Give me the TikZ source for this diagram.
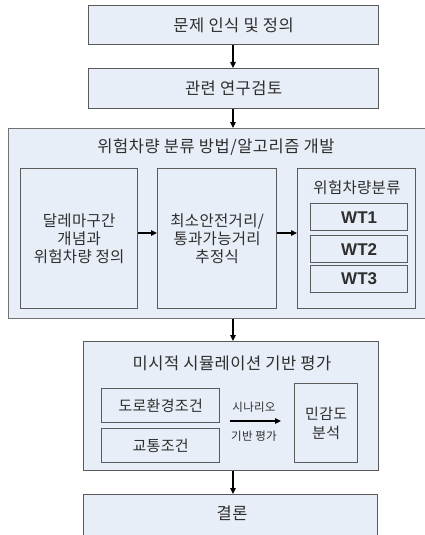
\documentclass[tikz,border=0pt]{standalone}
\usepackage{fontspec}
\usetikzlibrary{arrows.meta}
\newfontfamily\kr[LetterSpace=3]{Noto Sans CJK KR}
\newfontfamily\krs[LetterSpace=2]{Noto Sans CJK KR}
\newfontfamily\wtfont{Liberation Sans}
\definecolor{boxfill}{HTML}{E8EEF7}
\definecolor{boxline}{HTML}{5A5A5A}
\definecolor{txt}{HTML}{2E2E2E}
\begin{document}
\begin{tikzpicture}[x=1pt,y=-1pt,
  box/.style={draw=boxline, line width=1.3pt, fill=boxfill, anchor=north west, inner sep=0pt,
    text=txt, align=center, font=\krs\fontsize{15.5}{18}\selectfont},
  wt/.style={box, font=\wtfont\bfseries\fontsize{17}{18}\selectfont},
  lbl/.style={text=txt, inner sep=0pt, font=\krs\fontsize{15.5}{18}\selectfont},
  ttl/.style={text=txt, inner sep=0pt, font=\kr\fontsize{16.5}{18}\selectfont},
  arr/.style={-{Triangle[length=6pt,width=5.5pt]}, line width=1.1pt, black}]
\useasboundingbox (0,0) rectangle (425,535);
\fill[white] (0,0) rectangle (425,535);
\begin{scope}
\clip (0,0) rectangle (425,535);
% top boxes
\node[box, minimum width=290pt, minimum height=39pt, font=\kr\fontsize{16.5}{18}\selectfont] (b1) at (88,5) {문제 인식 및 정의};
\node[box, minimum width=290pt, minimum height=40pt, font=\kr\fontsize{16.5}{18}\selectfont] (b2) at (88,68) {관련 연구검토};
% big box
\node[box, draw=boxline!85, minimum width=425pt, minimum height=190pt] (b3) at (8,128) {};
\node[ttl] (t3) at (216,147) {위험차량 분류 방법/알고리즘 개발};
\node[box, minimum width=117pt, minimum height=140pt] (l1) at (20,168) {달레마구간\\개념과\\위험차량 정의};
\node[box, minimum width=119pt, minimum height=140pt] (l2) at (157,168) {최소안전거리/\\통과가능거리\\추정식};
\node[box, minimum width=118pt, minimum height=140pt] (l3) at (297,168) {};
\node[lbl] (t4) at (357,188) {위험차량분류};
\node[wt, minimum width=97pt, minimum height=27pt] (w1) at (310,203) {WT1};
\node[wt, minimum width=97pt, minimum height=27pt] (w2) at (310,235) {WT2};
\node[wt, minimum width=97pt, minimum height=27pt] (w3) at (310,265) {WT3};
% simulation box
\node[box, minimum width=295pt, minimum height=129pt] (b4) at (83,341) {};
\node[ttl] (t5) at (232,363) {미시적 시뮬레이션 기반 평가};
\node[box, minimum width=118pt, minimum height=34pt, font=\krs\fontsize{15}{18}\selectfont] (s1) at (101,388) {도로환경조건};
\node[box, minimum width=118pt, minimum height=34pt, font=\krs\fontsize{15}{18}\selectfont] (s2) at (101,428) {교통조건};
\node[box, minimum width=63pt, minimum height=79pt, font=\krs\fontsize{15}{19}\selectfont] (s3) at (294,383) {민감도\\분석};
\coordinate (sa) at (230,421);
\coordinate (sb) at (281,421);
\node[lbl, font=\krs\fontsize{11.5}{12}\selectfont] (sc1) at (254,407) {시나리오};
\node[lbl, font=\krs\fontsize{11.5}{12}\selectfont] (sc2) at (254,436) {기반 평가};
% conclusion
\node[box, minimum width=294pt, minimum height=50pt, anchor=north west] (b5) at (83,494) {};
\node[ttl] (t6) at (232,513) {결론};
% arrows
\draw[arr] (b1.south -| 233,0) -- (b2.north -| 233,0);
\draw[arr] (b2.south -| 233,0) -- (b3.north -| 233,0);
\draw[arr] (b3.south -| 233,0) -- (b4.north -| 233,0);
\draw[arr] (b4.south -| 233,0) -- (b5.north -| 233,0);
\draw[arr] (l1.east |- 0,233) -- (l2.west |- 0,233);
\draw[arr] (l2.east |- 0,233) -- (l3.west |- 0,233);
\draw[arr] (sa) -- (sb);
\end{scope}
\end{tikzpicture}
\end{document}
